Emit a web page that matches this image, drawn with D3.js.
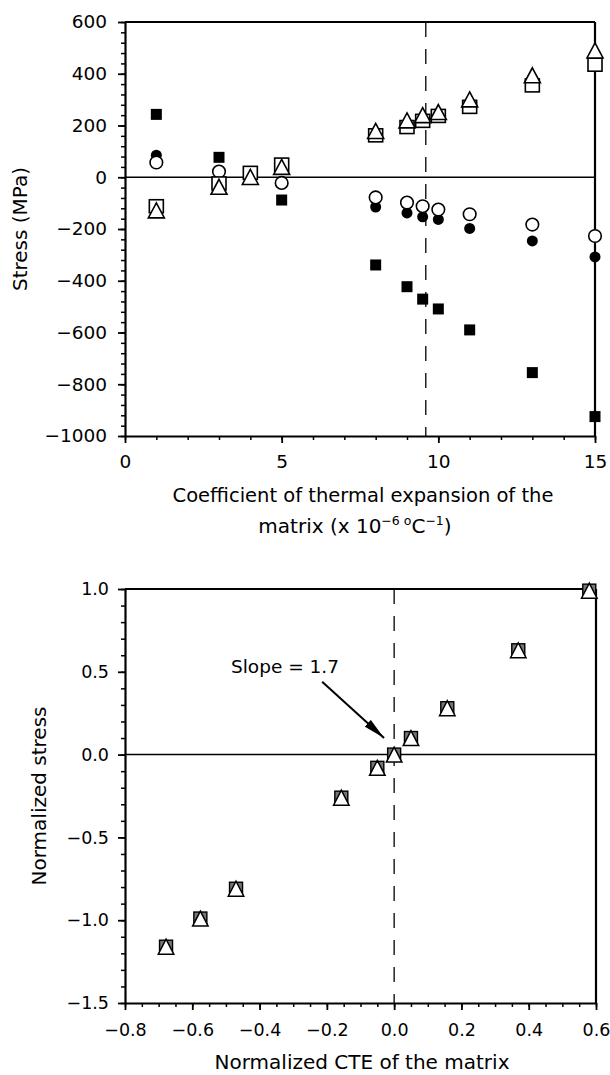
<!DOCTYPE html>
<html><head><meta charset="utf-8">
<script src="https://cdn.jsdelivr.net/npm/d3@7"></script>
<style>body{margin:0;background:#fff} text{font-family:"DejaVu Sans",sans-serif;fill:#000}</style>
</head><body><svg id="c" width="610" height="1075"></svg>
<script>
// ---------- data: top chart ----------
const cte = [1, 3, 4, 5, 8, 9, 9.5, 10, 11, 13, 15];
const filledSquares = [243, 77, null, -88, -339, -423, -471, -509, -590, -755, -925];
const filledCircles = [85, null, null, null, -115, -138, -153, -163, -198, -246, -308];
const openCircles = [57, 22, 3, -22, -78, -98, -112, -125, -143, -183, -227];
const openSquares = [-112, -24, 17, 49, 162, 194, 218, 237, 272, 355, 435];
const openTriangles = [-128, -37, 1, 40, 179, 220, 240, 252, 301, 394, 490];
const topXTicks = [0, 5, 10, 15];
const topYTicks = [-1000, -800, -600, -400, -200, 0, 200, 400, 600];
const topRefCTE = 9.6;

// ---------- data: bottom chart ----------
const normCTE = [-0.678, -0.576, -0.47, -0.157, -0.05, 0, 0.05, 0.158, 0.369, 0.58];
const normStress = [-1.16, -0.99, -0.81, -0.26, -0.08, 0, 0.10, 0.28, 0.63, 0.99];
const botXTicks = [-0.8, -0.6, -0.4, -0.2, 0, 0.2, 0.4, 0.6];
const botYTicks = [-1.5, -1.0, -0.5, 0, 0.5, 1.0];
const slopeLabel = "Slope = 1.7";
const slopeText = {x: -0.485, y: 0.49};
const slopeArrow = {x1: -0.214, y1: 0.44, x2: -0.03, y2: 0.10};

const svg = d3.select("#c");

function tri(w, h) { return `M0,${-h/2}L${w/2},${h/2}L${-w/2},${h/2}Z`; }

function drawAxes(g, x, y, xTicks, yTicks, xMinor, yMinor, xFmt, yFmt, fs, xPad, yPad) {
  const [x0, x1] = x.range(), [y0, y1] = y.range();
  g.append("g").attr("transform", `translate(0,${y0})`)
    .call(d3.axisBottom(x).tickValues(xMinor).tickFormat("").tickSize(4).tickSizeOuter(0))
    .call(a => a.select(".domain").remove())
    .selectAll("line").attr("stroke-width", 1.5);
  g.append("g").attr("transform", `translate(${x0},0)`)
    .call(d3.axisLeft(y).tickValues(yMinor).tickFormat("").tickSize(4).tickSizeOuter(0))
    .call(a => a.select(".domain").remove())
    .selectAll("line").attr("stroke-width", 1.5);
  const xa = g.append("g").attr("transform", `translate(0,${y0})`)
    .call(d3.axisBottom(x).tickValues(xTicks).tickFormat(xFmt).tickSize(7).tickSizeOuter(0).tickPadding(xPad));
  const ya = g.append("g").attr("transform", `translate(${x0},0)`)
    .call(d3.axisLeft(y).tickValues(yTicks).tickFormat(yFmt).tickSize(7).tickSizeOuter(0).tickPadding(yPad));
  [xa, ya].forEach(a => {
    a.select(".domain").attr("stroke-width", 2.2);
    a.selectAll(".tick line").attr("stroke-width", 1.8);
    a.selectAll("text").attr("font-size", fs).attr("font-family", '"DejaVu Sans", sans-serif');
  });
  g.append("line").attr("x1", x0).attr("x2", x1).attr("y1", y1).attr("y2", y1)
    .attr("stroke", "#000").attr("stroke-width", 2.2);
  g.append("line").attr("x1", x1).attr("x2", x1).attr("y1", y1).attr("y2", y0)
    .attr("stroke", "#000").attr("stroke-width", 2.2);
}

// ================= TOP CHART =================
{
  const x = d3.scaleLinear().domain([0, 15]).range([125, 595]);
  const y = d3.scaleLinear().domain([-1000, 600]).range([436, 22]);
  const g = svg.append("g");
  const fmtY = d3.format("d");
  drawAxes(g, x, y, topXTicks, topYTicks, d3.range(0, 15.01, 1), d3.range(-1000, 600.1, 40),
    d3.format("d"), fmtY, "18.5px", 12, 11);

  g.append("line").attr("x1", x(0)).attr("x2", x(15)).attr("y1", y(0)).attr("y2", y(0))
    .attr("stroke", "#000").attr("stroke-width", 1.5);
  g.append("line").attr("x1", x(topRefCTE)).attr("x2", x(topRefCTE)).attr("y1", y(600)).attr("y2", y(-1000))
    .attr("stroke", "#000").attr("stroke-width", 1.3).attr("stroke-dasharray", "15,12");

  const pts = arr => cte.map((c, i) => ({x: c, y: arr[i]})).filter(d => d.y !== null);

  g.selectAll(".fs").data(pts(filledSquares)).join("rect")
    .attr("x", d => x(d.x) - 5.5).attr("y", d => y(d.y) - 5.5).attr("width", 11).attr("height", 11)
    .attr("fill", "#000");
  g.selectAll(".fc").data(pts(filledCircles)).join("circle")
    .attr("cx", d => x(d.x)).attr("cy", d => y(d.y)).attr("r", 5.5).attr("fill", "#000");
  g.selectAll(".oc").data(pts(openCircles)).join("circle")
    .attr("cx", d => x(d.x)).attr("cy", d => y(d.y)).attr("r", 6.3)
    .attr("fill", "#fff").attr("stroke", "#000").attr("stroke-width", 1.6);
  g.selectAll(".os").data(pts(openSquares)).join("rect")
    .attr("x", d => x(d.x) - 7).attr("y", d => y(d.y) - 6.5).attr("width", 14).attr("height", 13)
    .attr("fill", "#fff").attr("stroke", "#000").attr("stroke-width", 1.6);
  g.selectAll(".ot").data(pts(openTriangles)).join("path")
    .attr("transform", d => `translate(${x(d.x)},${y(d.y)})`).attr("d", tri(16, 15))
    .attr("fill", "#fff").attr("stroke", "#000").attr("stroke-width", 1.6).attr("stroke-linejoin", "miter");

  svg.append("text").attr("transform", `translate(27,${(22 + 436) / 2}) rotate(-90)`)
    .attr("text-anchor", "middle").attr("font-size", "20px").text("Stress (MPa)");
  svg.append("text").attr("x", 363).attr("y", 502).attr("text-anchor", "middle")
    .attr("font-size", "19.5px").text("Coefficient of thermal expansion of the");
  const t2 = svg.append("text").attr("x", 355).attr("y", 533).attr("text-anchor", "middle")
    .attr("font-size", "20px");
  t2.append("tspan").text("matrix (x 10");
  t2.append("tspan").attr("dy", -8).attr("font-size", "12.5px").text("−6");
  t2.append("tspan").attr("dy", 0).attr("font-size", "12.5px").text(" o");
  t2.append("tspan").attr("dy", 8).text("C");
  t2.append("tspan").attr("dy", -8).attr("font-size", "12.5px").text("−1");
  t2.append("tspan").attr("dy", 8).text(")");
}

// ================= BOTTOM CHART =================
{
  const x = d3.scaleLinear().domain([-0.8, 0.6]).range([125, 596]);
  const y = d3.scaleLinear().domain([-1.5, 1.0]).range([1003, 589]);
  const g = svg.append("g");
  const f1 = d3.format(".1f");
  drawAxes(g, x, y, botXTicks, botYTicks, d3.range(-0.8, 0.601, 0.05), d3.range(-1.5, 1.001, 0.1),
    f1, f1, "17.5px", 14, 9);

  g.append("line").attr("x1", x(-0.8)).attr("x2", x(0.6)).attr("y1", y(0)).attr("y2", y(0))
    .attr("stroke", "#000").attr("stroke-width", 1.5);
  g.append("line").attr("x1", x(0)).attr("x2", x(0)).attr("y1", y(1)).attr("y2", y(-1.5))
    .attr("stroke", "#000").attr("stroke-width", 1.3).attr("stroke-dasharray", "15,12");

  const pts = normCTE.map((c, i) => ({x: c, y: normStress[i]}));
  const s = 13;
  g.selectAll(".bs").data(pts).join("rect")
    .attr("x", d => x(d.x) - s/2).attr("y", d => y(d.y) - s/2).attr("width", s).attr("height", s)
    .attr("fill", "#777").attr("stroke", "#000").attr("stroke-width", 1.4);
  g.selectAll(".bt").data(pts).join("path")
    .attr("transform", d => `translate(${x(d.x)},${y(d.y)})`).attr("d", tri(15.5, 15))
    .attr("fill", "#fff").attr("stroke", "#000").attr("stroke-width", 1.5);

  g.append("text").attr("x", x(slopeText.x)).attr("y", y(slopeText.y))
    .attr("font-size", "18.5px").text(slopeLabel);
  svg.append("defs").append("marker").attr("id", "ah").attr("viewBox", "0 0 22 10")
    .attr("refX", 22).attr("refY", 5).attr("markerWidth", 22).attr("markerHeight", 10)
    .attr("markerUnits", "userSpaceOnUse").attr("orient", "auto")
    .append("path").attr("d", "M0,0.5L22,5L0,9.5Z").attr("fill", "#000");
  g.append("line").attr("x1", x(slopeArrow.x1)).attr("y1", y(slopeArrow.y1))
    .attr("x2", x(slopeArrow.x2)).attr("y2", y(slopeArrow.y2))
    .attr("stroke", "#000").attr("stroke-width", 2).attr("marker-end", "url(#ah)");

  svg.append("text").attr("transform", `translate(46,${(589 + 1003) / 2}) rotate(-90)`)
    .attr("text-anchor", "middle").attr("font-size", "20px").text("Normalized stress");
  svg.append("text").attr("x", 362).attr("y", 1069).attr("text-anchor", "middle")
    .attr("font-size", "20px").text("Normalized CTE of the matrix");
}
</script></body></html>
